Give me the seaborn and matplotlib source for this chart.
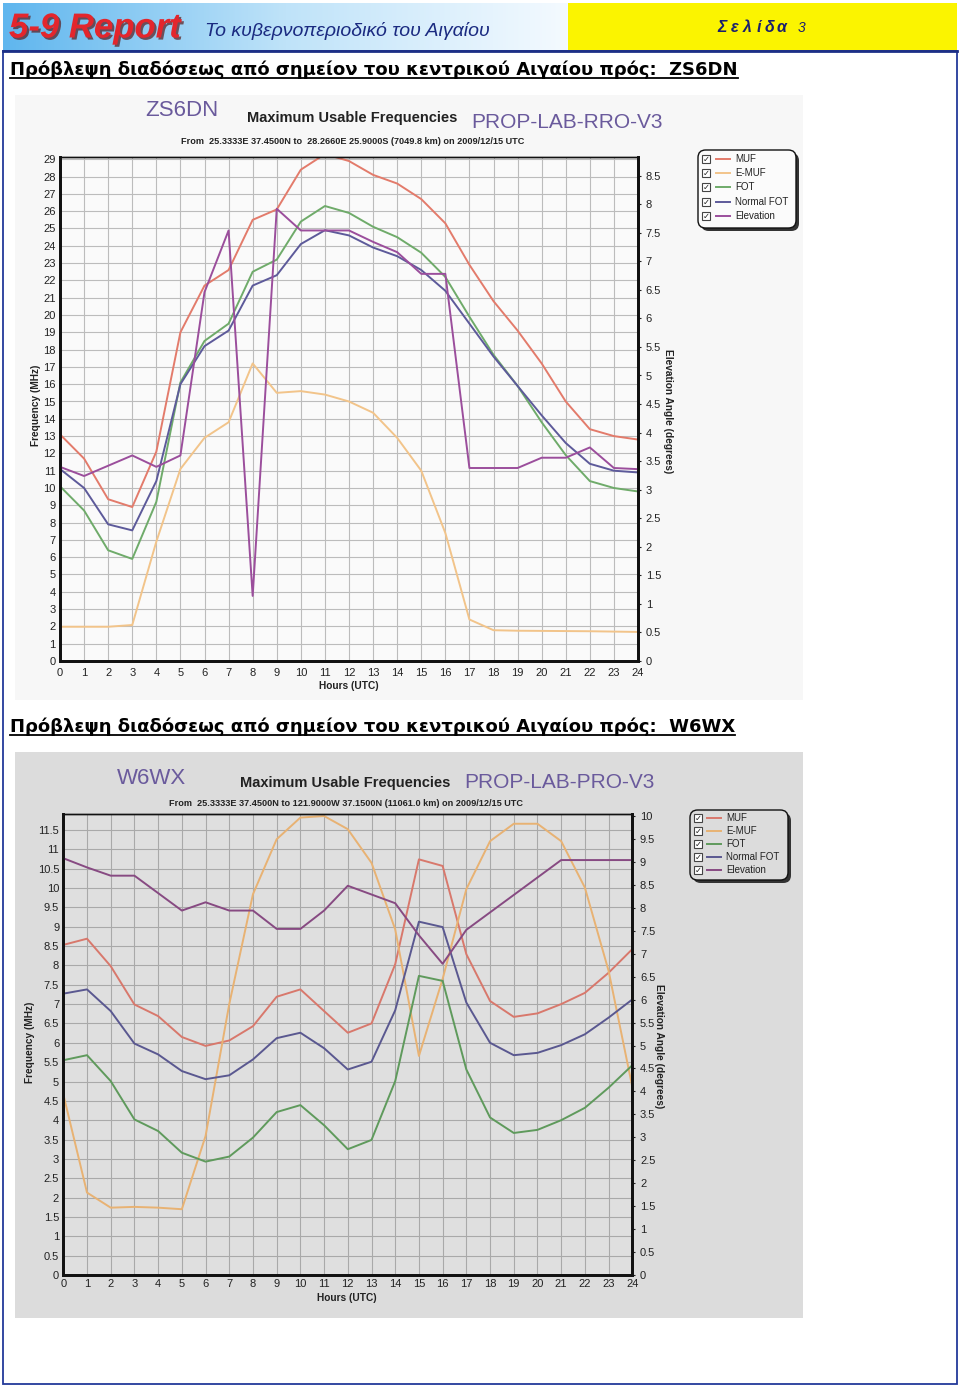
import numpy as np
import pandas as pd
import matplotlib
matplotlib.use('Agg')
import matplotlib.pyplot as plt
import seaborn as sns
import matplotlib.patheffects as pe
from matplotlib.patches import Rectangle, FancyBboxPatch
from matplotlib.lines import Line2D
from matplotlib.colors import LinearSegmentedColormap

plt.rcParams['font.family'] = ['Liberation Sans', 'DejaVu Sans']

# ---- data (hours 0..24 UTC) ----
hours = list(range(25))

# ZS6DN (MHz, elevation in degrees)
zs_muf = [13.1, 11.7, 9.35, 8.9, 12.1, 19.0, 21.7, 22.6, 25.5, 26.1, 28.4, 29.3, 28.9,
          28.1, 27.6, 26.7, 25.3, 22.9, 20.8, 19.1, 17.2, 15.0, 13.4, 13.0, 12.8]
zs_emuf = [1.98, 1.98, 1.98, 2.08, 6.9, 11.1, 12.9, 13.8, 17.2, 15.5, 15.6, 15.4, 15.0,
           14.35, 12.9, 11.0, 7.4, 2.4, 1.78, 1.75, 1.74, 1.73, 1.72, 1.70, 1.68]
zs_fot = [10.1, 8.7, 6.4, 5.9, 9.2, 16.1, 18.5, 19.5, 22.5, 23.2, 25.4, 26.3, 25.9,
          25.1, 24.5, 23.6, 22.2, 19.9, 17.7, 15.9, 13.8, 11.9, 10.4, 10.0, 9.8]
zs_nfot = [11.1, 10.0, 7.9, 7.55, 10.4, 16.0, 18.2, 19.1, 21.7, 22.3, 24.1, 24.9, 24.6,
           23.9, 23.4, 22.6, 21.4, 19.5, 17.6, 15.9, 14.2, 12.6, 11.4, 11.0, 10.9]
zs_elev = [3.40, 3.24, 3.42, 3.60, 3.40, 3.60, 6.46, 7.54, 1.14, 7.92, 7.54, 7.54, 7.54,
           7.34, 7.16, 6.78, 6.78, 3.38, 3.38, 3.38, 3.56, 3.56, 3.74, 3.38, 3.36]

# W6WX
w6_muf = [8.53, 8.69, 7.98, 6.99, 6.69, 6.15, 5.92, 6.06, 6.43, 7.19, 7.38, 6.82, 6.26,
          6.5, 8.03, 10.74, 10.57, 8.29, 7.08, 6.67, 6.76, 7.0, 7.29, 7.81, 8.42]
w6_emuf = [4.67, 2.13, 1.74, 1.76, 1.74, 1.70, 3.59, 7.0, 9.84, 11.26, 11.82, 11.86, 11.52,
           10.65, 8.93, 5.66, 7.65, 9.97, 11.21, 11.66, 11.66, 11.21, 10.01, 7.86, 4.86]
w6_fot = [5.55, 5.68, 5.01, 4.02, 3.72, 3.16, 2.93, 3.06, 3.55, 4.21, 4.39, 3.87, 3.25,
          3.49, 5.01, 7.73, 7.6, 5.31, 4.07, 3.67, 3.75, 4.0, 4.32, 4.84, 5.42]
w6_nfot = [7.27, 7.38, 6.82, 5.98, 5.70, 5.27, 5.06, 5.16, 5.57, 6.12, 6.26, 5.86, 5.31,
           5.51, 6.84, 9.13, 8.99, 7.04, 6.0, 5.68, 5.74, 5.94, 6.22, 6.65, 7.12]
w6_elev = [9.08, 8.88, 8.70, 8.70, 8.32, 7.94, 8.12, 7.94, 7.94, 7.54, 7.54, 7.94, 8.48,
           8.29, 8.10, 7.40, 6.78, 7.52, 7.90, 8.28, 8.66, 9.04, 9.04, 9.04, 9.04]

series_names = ['MUF', 'E-MUF', 'FOT', 'Normal FOT', 'Elevation']
colors1 = {'MUF': '#e37b6b', 'E-MUF': '#f2c48a', 'FOT': '#6fab6a',
           'Normal FOT': '#5d5a9a', 'Elevation': '#9b4e9c'}
colors2 = {'MUF': '#d8786c', 'E-MUF': '#e8b273', 'FOT': '#5f9a5c',
           'Normal FOT': '#5a5890', 'Elevation': '#874a82'}

W, H = 960, 1387


def fx(x):
    return x / W


def fy(y):
    return 1 - y / H


fig = plt.figure(figsize=(9.6, 13.87), dpi=100)
fig.patch.set_facecolor('white')

# ---- page header ----
hax = fig.add_axes([fx(3), fy(51), fx(565), (51 - 3) / H])
grad = np.linspace(0, 1, 256).reshape(1, -1)
hcmap = LinearSegmentedColormap.from_list('hdr', ['#5fb6ee', '#bfe3f9', '#f4faff'])
hax.imshow(grad, aspect='auto', cmap=hcmap, extent=[0, 1, 0, 1])
hax.axis('off')
fig.add_artist(Rectangle((fx(568), fy(51)), fx(389), 48 / H, transform=fig.transFigure,
                         fc='#fbf400', ec='none', zorder=-5))
fig.add_artist(Rectangle((fx(3), fy(1384)), fx(954), (1384 - 51) / H,
                         transform=fig.transFigure, fill=False, ec='#23399a', lw=1.3))
fig.add_artist(Line2D([fx(3), fx(957)], [fy(51), fy(51)], transform=fig.transFigure,
                      color='#1c2f86', lw=2))

fig.text(fx(9), fy(28), '5-9 Report', fontsize=25, fontweight='bold', style='italic',
         color='#e3262d', va='center',
         path_effects=[pe.SimplePatchShadow(offset=(1.5, -1.5), shadow_rgbFace='#5a1a1a', alpha=0.7),
                       pe.Normal()])
fig.text(fx(205), fy(31), 'Το κυβερνοπεριοδικό του Αιγαίου', fontsize=14, style='italic',
         color='#1a2a80', va='center')
# letter-spaced page label
for ch, x in zip('Σελίδα', [717, 731, 743, 756, 765, 777]):
    fig.text(fx(x), fy(27), ch, fontsize=11.5, fontweight='bold', style='italic',
             color='#1a1f6e', va='center')
fig.text(fx(798), fy(28), '3', fontsize=10, style='italic', color='#1a1f6e', va='center')

headings = [
    (70, 'Πρόβλεψη διαδόσεως από σημείον του κεντρικού Αιγαίου πρός:  ZS6DN'),
    (727, 'Πρόβλεψη διαδόσεως από σημείον του κεντρικού Αιγαίου πρός:  W6WX'),
]
head_texts = []
for y, s in headings:
    t = fig.text(fx(10), fy(y), s, fontsize=13, fontweight='bold',
                 family=['DejaVu Sans'], color='black', va='center')
    head_texts.append(t)

# ---- scanned chart panels (behind the axes) ----
fig.add_artist(Rectangle((fx(15), fy(700)), fx(788), 605 / H, transform=fig.transFigure,
                         fc='#f7f7f7', ec='none', zorder=-5))
fig.add_artist(Rectangle((fx(15), fy(1318)), fx(788), 566 / H, transform=fig.transFigure,
                         fc='#dcdcdc', ec='none', zorder=-5))


def add_ax(l, t, r, b):
    return fig.add_axes([fx(l), fy(b), (r - l) / W, (b - t) / H])


def draw_chart(ax, muf, emuf, fot, nfot, elev, colors, fmax, emax, fstep, face, xpad, gridc):
    df = pd.DataFrame({
        'Hour': hours * 4,
        'MHz': muf + emuf + fot + nfot,
        'Series': ['MUF'] * 25 + ['E-MUF'] * 25 + ['FOT'] * 25 + ['Normal FOT'] * 25,
    })
    ax.set_facecolor(face)
    sns.lineplot(data=df, x='Hour', y='MHz', hue='Series', palette=colors, ax=ax,
                 legend=False, linewidth=1.4)
    ax.set_xlim(0, 24)
    ax.set_ylim(0, fmax)
    ax.set_xticks(range(25))
    ax.set_yticks(np.arange(0, fmax, fstep))
    ax.yaxis.set_major_formatter(plt.FuncFormatter(lambda v, p: f'{v:g}'))
    ax.grid(True, color=gridc, lw=0.8)
    ax.set_axisbelow(True)
    ax.set_xlabel('')
    ax.set_ylabel('')
    ax.tick_params(axis='both', labelsize=8, colors='#222222', length=0)
    ax.tick_params(axis='y', pad=3)
    ax.tick_params(axis='x', pad=xpad)

    ax2 = ax.twinx()
    sns.lineplot(x=hours, y=elev, color=colors['Elevation'], ax=ax2, linewidth=1.4)
    ax2.set_ylim(0, emax)
    ax2.set_yticks(np.arange(0, emax, 0.5))
    ax2.yaxis.set_major_formatter(plt.FuncFormatter(lambda v, p: f'{v:g}'))
    ax2.tick_params(axis='y', labelsize=8, colors='#222222', length=2.5, pad=3)
    ax2.set_ylabel('')
    ax2.grid(False)

    for a in (ax, ax2):
        for side in ('left', 'bottom', 'right', 'top'):
            a.spines[side].set_color('#111111')
        a.spines['left'].set_linewidth(2)
        a.spines['bottom'].set_linewidth(2)
        a.spines['right'].set_linewidth(2)
        a.spines['top'].set_linewidth(1)
    return ax2


def draw_legend(x0, y0, x1, y1, rows_y, cb_x, line_x, text_x, colors, face):
    shadow = FancyBboxPatch((fx(x0 + 3), fy(y1 + 3)), fx(x1 - x0), (y1 - y0) / H,
                            boxstyle='round,pad=0,rounding_size=0.008', mutation_aspect=W / H,
                            transform=fig.transFigure, fc='#333333', ec='none')
    box = FancyBboxPatch((fx(x0), fy(y1)), fx(x1 - x0), (y1 - y0) / H,
                         boxstyle='round,pad=0,rounding_size=0.008', mutation_aspect=W / H,
                         transform=fig.transFigure, fc=face, ec='#111111', lw=1)
    fig.add_artist(shadow)
    fig.add_artist(box)
    for name, y in zip(series_names, rows_y):
        fig.add_artist(Rectangle((fx(cb_x), fy(y + 4)), fx(8), 8 / H, transform=fig.transFigure,
                                 fc='white', ec='#444444', lw=0.8))
        fig.text(fx(cb_x + 4), fy(y), '✓', fontsize=6, family=['DejaVu Sans'],
                 ha='center', va='center', color='#222222')
        fig.add_artist(Line2D([fx(line_x), fx(line_x + 14)], [fy(y), fy(y)],
                              transform=fig.transFigure, color=colors[name], lw=1.4))
        fig.text(fx(text_x), fy(y), name, fontsize=7, va='center', color='#222222')


# ---- chart 1 : ZS6DN ----
ax1 = add_ax(60, 157, 638, 661)
draw_chart(ax1, zs_muf, zs_emuf, zs_fot, zs_nfot, zs_elev, colors1,
           (661 - 157) / 17.3, (661 - 157) / 57.1, 1, '#fafafa', 5, '#bcbcbc')
fig.text(fx(182), fy(111), 'ZS6DN', fontsize=16, color='#6a5a9c', ha='center', va='center',
         fontweight='light')
fig.text(fx(352), fy(118), 'Maximum Usable Frequencies', fontsize=10.5, fontweight='bold',
         ha='center', va='center', color='#222222')
fig.text(fx(567), fy(122), 'PROP-LAB-RRO-V3', fontsize=15, color='#6a5a9c', ha='center',
         va='center', fontweight='light')
fig.text(fx(353), fy(141), 'From  25.3333E 37.4500N to  28.2660E 25.9000S (7049.8 km) on 2009/12/15 UTC',
         fontsize=6.6, fontweight='bold', ha='center', va='center', color='#222222')
fig.text(fx(349), fy(686), 'Hours (UTC)', fontsize=7.3, fontweight='bold', ha='center',
         va='center', color='#222222')
fig.text(fx(36), fy(405), 'Frequency (MHz)', fontsize=7.3, fontweight='bold', rotation=90,
         ha='center', va='center', color='#222222')
fig.text(fx(668), fy(411), 'Elevation Angle (degrees)', fontsize=7.3, fontweight='bold',
         rotation=270, ha='center', va='center', color='#222222')
draw_legend(698, 150, 796, 228, [159, 173, 187, 202, 216], 702, 716, 735, colors1, '#fbfbfb')

# ---- chart 2 : W6WX ----
ax3 = add_ax(63.3, 814, 632.3, 1275)
draw_chart(ax3, w6_muf, w6_emuf, w6_fot, w6_nfot, w6_elev, colors2,
           (1275 - 814) / 38.7, (1275 - 814) / 45.9, 0.5, '#dfdfdf', 3, '#a9a9a9')
fig.text(fx(152), fy(779), 'W6WX', fontsize=16, color='#6a5a9c', ha='center', va='center',
         fontweight='light')
fig.text(fx(345), fy(783), 'Maximum Usable Frequencies', fontsize=10.5, fontweight='bold',
         ha='center', va='center', color='#222222')
fig.text(fx(559), fy(783), 'PROP-LAB-PRO-V3', fontsize=15, color='#6a5a9c', ha='center',
         va='center', fontweight='light')
fig.text(fx(346), fy(803), 'From  25.3333E 37.4500N to 121.9000W 37.1500N (11061.0 km) on 2009/12/15 UTC',
         fontsize=6.6, fontweight='bold', ha='center', va='center', color='#222222')
fig.text(fx(347), fy(1298), 'Hours (UTC)', fontsize=7.3, fontweight='bold', ha='center',
         va='center', color='#222222')
fig.text(fx(30), fy(1042), 'Frequency (MHz)', fontsize=7.3, fontweight='bold', rotation=90,
         ha='center', va='center', color='#222222')
fig.text(fx(659), fy(1046), 'Elevation Angle (degrees)', fontsize=7.3, fontweight='bold',
         rotation=270, ha='center', va='center', color='#222222')
draw_legend(690, 810, 788, 880, [818, 831, 844, 857, 870], 694, 707, 726, colors2, '#dcdcdc')

# underline the section headings
fig.canvas.draw()
renderer = fig.canvas.get_renderer()
for t in head_texts:
    bb = t.get_window_extent(renderer).transformed(fig.transFigure.inverted())
    fig.add_artist(Line2D([bb.x0, bb.x1], [bb.y0 + 1.5 / H, bb.y0 + 1.5 / H],
                          transform=fig.transFigure, color='black', lw=1.3))

fig.savefig('out.png', dpi=100)
